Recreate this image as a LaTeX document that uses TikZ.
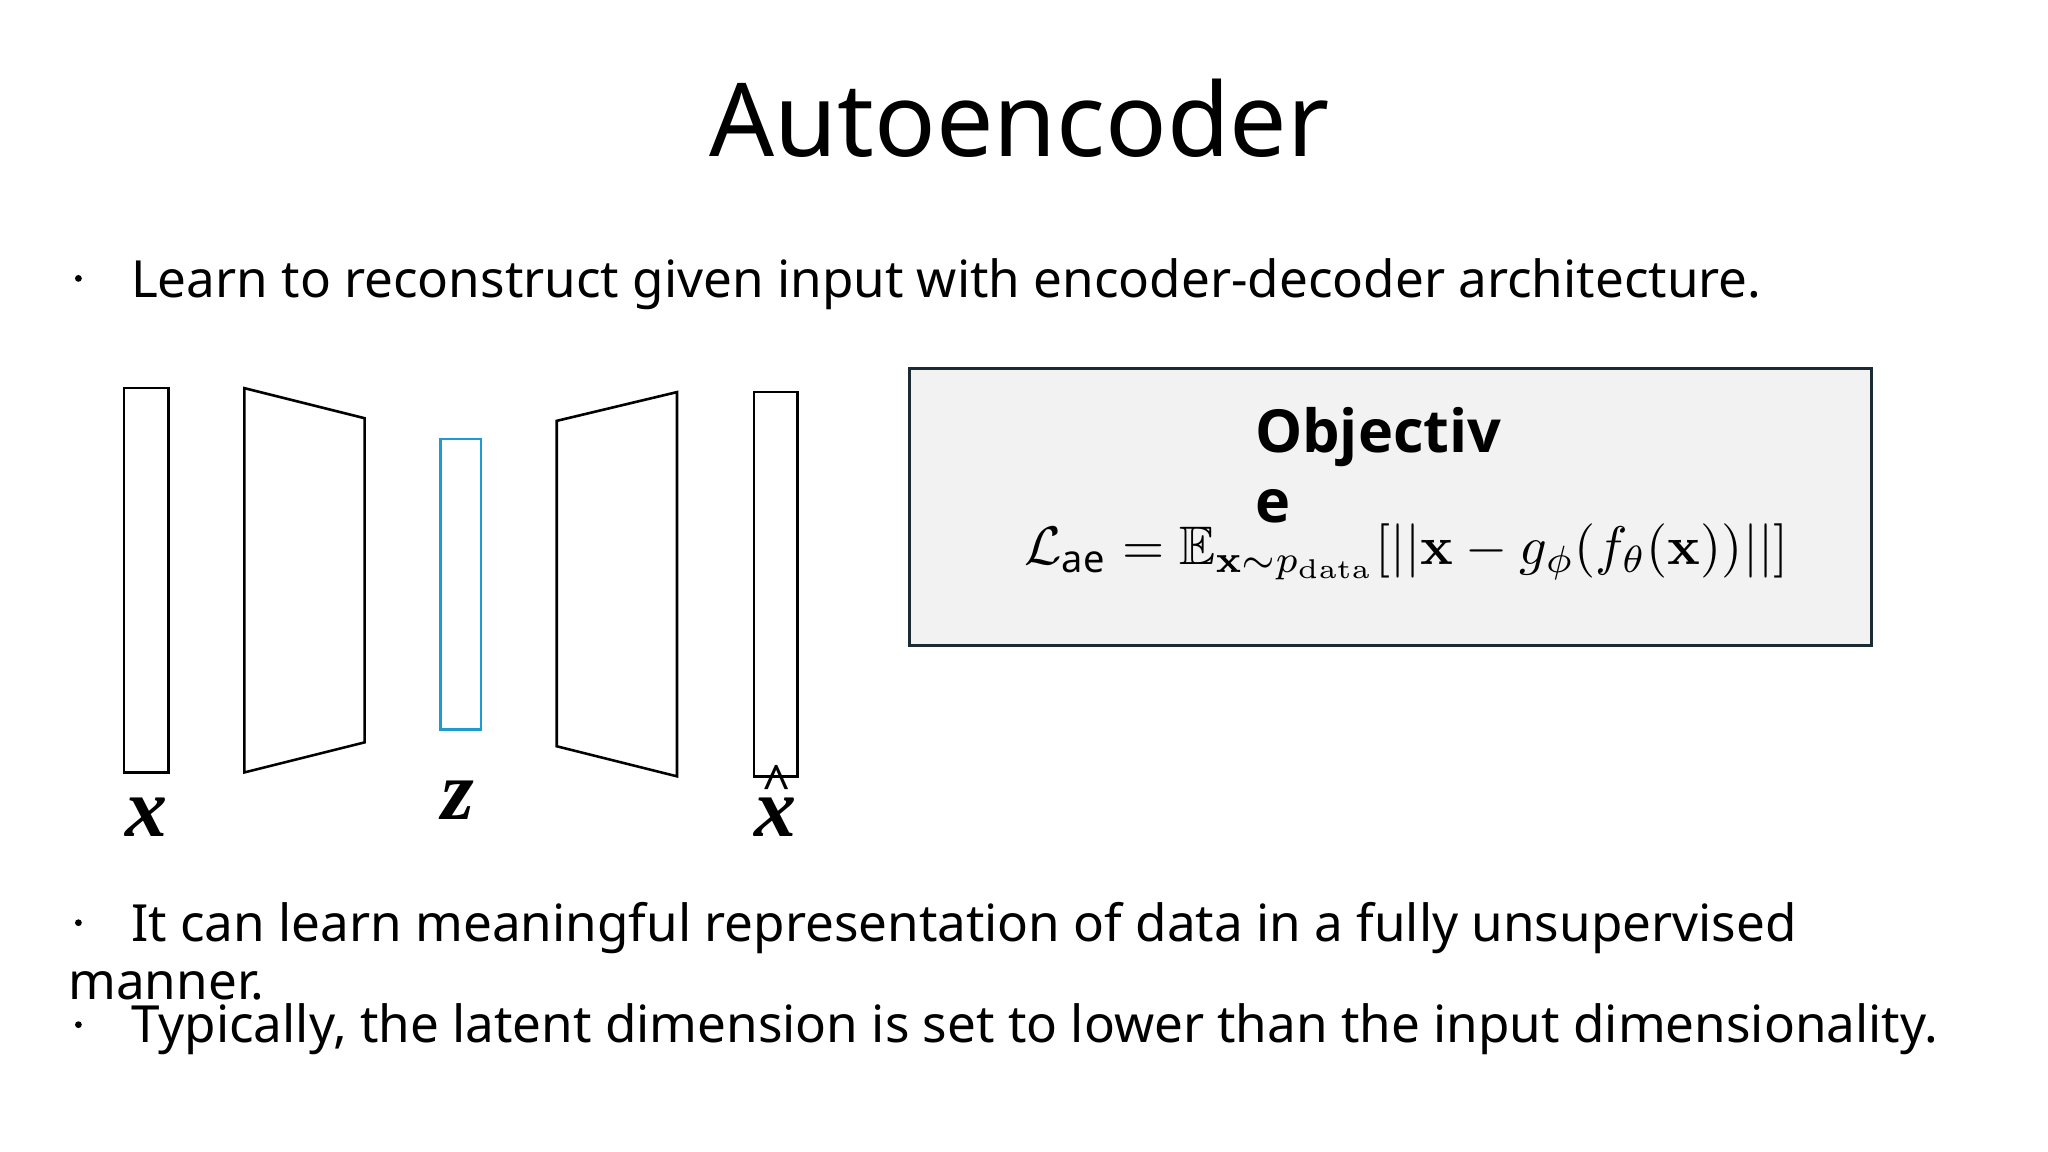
\documentclass[tikz,border=0pt]{standalone}
\usepackage{amsmath,amssymb}
\usepackage[no-math]{fontspec}
\usepackage{graphicx}
\setmainfont{Noto Sans}
\newfontfamily\lblfont{Liberation Serif}
\newfontfamily\objfont{Open Sans}
\definecolor{boxfill}{HTML}{F2F2F2}
\definecolor{boxedge}{HTML}{1C2B33}
\definecolor{zblue}{HTML}{1E9BD0}
\begin{document}
\begin{tikzpicture}[x=0.6536pt,y=-0.6536pt,
  shp/.style={draw=black,line width=1.3pt,line join=miter},
  body/.style={font=\fontsize{25.6}{30}\selectfont,anchor=base west,inner sep=0pt},
  lbl/.style={font=\lblfont\bfseries\itshape\fontsize{42}{42}\selectfont,anchor=base,inner sep=0pt},
  dot/.style={fill=black,circle,inner sep=0pt,minimum size=3.4pt}]
\useasboundingbox (0,0) rectangle (1567,881);
\node[font=\fontsize{51}{56}\selectfont,anchor=base,inner sep=0pt] (title) at (780,120) {Autoencoder};
\node[dot] (b1) at (60,213) {};
\node[body] (t1) at (100,228) {Learn to reconstruct given input with encoder-decoder architecture.};
% shapes
\draw[shp] (95,297) rectangle (129,591);
\draw[shp] (187,297) -- (279,320) -- (279,568) -- (187,591) -- cycle;
\draw[draw=zblue,line width=1.3pt] (337,336) rectangle (368,558);
\draw[shp] (426,322) -- (518,300) -- (518,594) -- (426,571) -- cycle;
\draw[shp] (577,300) rectangle (610,594);
\node[lbl] (lx) at (112,640) {x};
\node[lbl] (lz) at (350,627) {z};
\node[lbl] (lxh) at (593,640) {x};
\node[font=\lblfont\bfseries\fontsize{26}{26}\selectfont,anchor=base,inner sep=0pt] (hat) at (594,612) {\^{}};
% objective box
\draw[fill=boxfill,draw=boxedge,line width=1.4pt] (696,282) rectangle (1432,494);
\node[font=\objfont\bfseries\fontsize{29.7}{36}\selectfont,anchor=base west,inner sep=0pt] (obj1) at (960,346) {Objectiv};
\node[font=\objfont\bfseries\fontsize{29.7}{36}\selectfont,anchor=base west,inner sep=0pt] (obj2) at (960,400) {e};
\node[anchor=base,inner sep=0pt] (eq) at (1076,432) {\resizebox{382pt}{!}{$\mathcal{L}_{\text{ae}}=\mathbb{E}_{\mathbf{x}\sim p_{\mathrm{data}}}[||\mathbf{x}-g_{\phi}(f_{\theta}(\mathbf{x}))||]$}};
% bullets
\node[dot] (b2) at (60,706) {};
\node[body] (t2) at (100,720) {It can learn meaningful representation of data in a fully unsupervised};
\node[body] (t2b) at (52,765) {manner.};
\node[dot] (b3) at (60,784) {};
\node[body] (t3) at (100,798) {Typically, the latent dimension is set to lower than the input dimensionality.};
\end{tikzpicture}
\end{document}
